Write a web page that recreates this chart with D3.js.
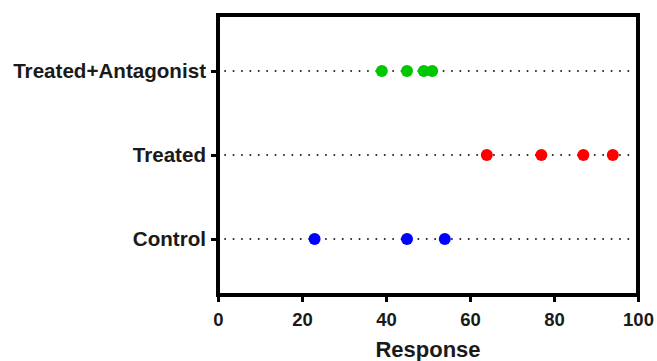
<!DOCTYPE html>
<html><head><meta charset="utf-8">
<script src="https://cdn.jsdelivr.net/npm/d3@7"></script>
<style>
html,body{margin:0;padding:0;background:#fff;}
text{font-family:"Liberation Sans",Arial,sans-serif;font-weight:bold;fill:#1a1a1a;}
</style></head><body>
<svg id="chart" width="657" height="361"></svg>
<script>
const categories = ["Control", "Treated", "Treated+Antagonist"];
const controlValues = [23, 45, 54];
const treatedValues = [64, 77, 87, 94];
const antagonistValues = [39, 45, 49, 51];
const seriesColors = ["#0000ff", "#ff0000", "#00c800"];
const xTicks = [0, 20, 40, 60, 80, 100];
const xTitle = "Response";

(function () {
const series = [controlValues, treatedValues, antagonistValues];
const svg = d3.select("#chart");
const mLeft = 218, mRight = 638, mTop = 15, mBottom = 295;

const x = d3.scaleLinear().domain([0, 100]).range([mLeft, mRight]);
const y = d3.scalePoint().domain(categories).range([mBottom, mTop]).padding(0.667);

// dotted guide lines
svg.append("g").selectAll("line").data(categories).join("line")
  .attr("x1", x(1.7)).attr("x2", x(98.5))
  .attr("y1", d => y(d)).attr("y2", d => y(d))
  .attr("stroke", "#222").attr("stroke-width", 2)
  .attr("stroke-linecap", "round")
  .attr("stroke-dasharray", "0,8.4");

// points
categories.forEach((c, i) => {
  svg.append("g").selectAll("circle").data(series[i]).join("circle")
    .attr("cx", d => x(d)).attr("cy", y(c)).attr("r", 6)
    .attr("fill", seriesColors[i]);
});

// frame
svg.append("rect").attr("x", mLeft).attr("y", mTop)
  .attr("width", mRight - mLeft).attr("height", mBottom - mTop)
  .attr("fill", "none").attr("stroke", "#000").attr("stroke-width", 4);

// x axis
const xAxis = svg.append("g").attr("transform", `translate(0,${mBottom})`)
  .call(d3.axisBottom(x).tickValues(xTicks).tickSize(7).tickPadding(11));
xAxis.select(".domain").remove();
xAxis.selectAll(".tick line").attr("stroke", "#000").attr("stroke-width", 3);
xAxis.selectAll(".tick text").style("font-size", "18.5px").attr("fill", "#1a1a1a");

// y axis
const yAxis = svg.append("g").attr("transform", `translate(${mLeft},0)`)
  .call(d3.axisLeft(y).tickSize(7).tickPadding(5));
yAxis.select(".domain").remove();
yAxis.selectAll(".tick line").attr("stroke", "#000").attr("stroke-width", 3);
yAxis.selectAll(".tick text").style("font-size", "20.6px").attr("fill", "#1a1a1a");

svg.append("text").attr("x", x(50)).attr("y", 357)
  .attr("text-anchor", "middle").style("font-size", "22px").text(xTitle);
})();
</script>
</body></html>
